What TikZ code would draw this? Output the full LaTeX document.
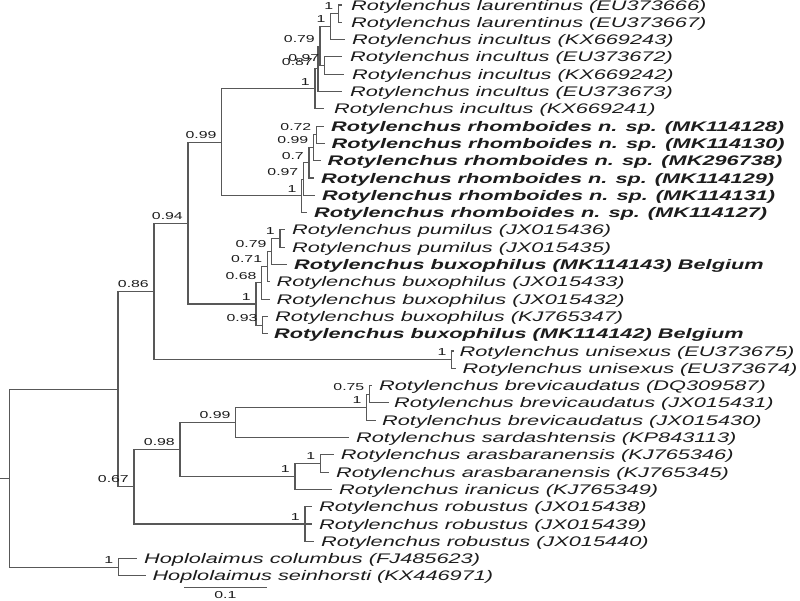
\documentclass[tikz,border=0pt]{standalone}
\usepackage{fontspec}
\setmainfont{Liberation Sans}
\usepackage{graphicx}
\definecolor{brc}{RGB}{88,88,88}
\definecolor{txc}{RGB}{28,28,28}
\newcommand{\leafit}[1]{\scalebox{1.564}[1]{\fontsize{13.9}{15}\selectfont\itshape #1}}
\newcommand{\leafbf}[1]{\scalebox{1.564}[1]{\fontsize{13.9}{15}\selectfont\bfseries\itshape #1}}
\newcommand{\suppt}[1]{\scalebox{1.57}[1]{\fontsize{10.1}{11}\selectfont #1}}
\begin{document}
\begin{tikzpicture}[x=1pt,y=-1pt,
  br/.style={draw=brc,line width=1.1pt},
  leaf/.style={anchor=base west,inner sep=0pt,text=txc},
  supp/.style={anchor=south east,inner sep=0pt,text=txc}]
\useasboundingbox (0,0) rectangle (800,600);
% leaf tips
\coordinate (l0) at (342,5.0);
\coordinate (l1) at (342,22.3);
\coordinate (l2) at (345,39.6);
\coordinate (l3) at (342,56.9);
\coordinate (l4) at (344,74.2);
\coordinate (l5) at (342,91.5);
\coordinate (l6) at (324,108.8);
\coordinate (l7) at (324,126.1);
\coordinate (l8) at (324.5,143.4);
\coordinate (l9) at (320.5,160.7);
\coordinate (l10) at (314,178.0);
\coordinate (l11) at (315,195.3);
\coordinate (l12) at (307,212.6);
\coordinate (l13) at (285,229.9);
\coordinate (l14) at (285,247.2);
\coordinate (l15) at (287,264.5);
\coordinate (l16) at (270,281.8);
\coordinate (l17) at (270,299.1);
\coordinate (l18) at (268,316.4);
\coordinate (l19) at (268,333.7);
\coordinate (l20) at (454,351.0);
\coordinate (l21) at (456,368.3);
\coordinate (l22) at (372,385.6);
\coordinate (l23) at (389,402.9);
\coordinate (l24) at (376,420.2);
\coordinate (l25) at (349,437.5);
\coordinate (l26) at (334,454.8);
\coordinate (l27) at (329,472.1);
\coordinate (l28) at (332,489.4);
\coordinate (l29) at (312,506.7);
\coordinate (l30) at (312,524.0);
\coordinate (l31) at (314,541.3);
\coordinate (l32) at (137,558.6);
\coordinate (l33) at (146,575.9);
% internal nodes
\coordinate (Nlau) at (338.3,13.65);
\coordinate (Na) at (330.7,26.6);
\coordinate (Nc) at (324.5,65.55);
\coordinate (R) at (320,46.1);
\coordinate (Q) at (318,68.8);
\coordinate (P) at (315,88.8);
\coordinate (W) at (316.5,134.75);
\coordinate (X) at (313.5,147.7);
\coordinate (Y) at (309,162.85);
\coordinate (T) at (303.5,179.1);
\coordinate (S) at (301.7,195.85);
\coordinate (N99) at (221.7,142.3);
\coordinate (P1) at (280,238.55);
\coordinate (P2) at (271.7,251.5);
\coordinate (P3) at (267.3,266.65);
\coordinate (P4) at (261.7,282.9);
\coordinate (B2) at (262.7,325.05);
\coordinate (B0) at (256,304);
\coordinate (N94) at (188,223.15);
\coordinate (U1) at (451.7,359.65);
\coordinate (N86) at (154,291.4);
\coordinate (C5) at (369.5,394.25);
\coordinate (C4) at (366.7,407.2);
\coordinate (C2) at (235.7,422.35);
\coordinate (C6) at (320.5,463.45);
\coordinate (C3) at (295,476.4);
\coordinate (C1) at (180,449.4);
\coordinate (R1) at (305,524);
\coordinate (Z) at (134,486.7);
\coordinate (M) at (118,389.05);
\coordinate (H) at (118.3,567.25);
\coordinate (Root) at (9.3,478.15);
\coordinate (r0) at (0,478.15);
% branches
\foreach \p/\c in {Nlau/l0,Nlau/l1,Na/Nlau,Na/l2,Nc/l3,Nc/l4,R/Na,R/Nc,Q/R,Q/l5,P/Q,P/l6,
  W/l7,W/l8,X/W,X/l9,Y/X,Y/l10,T/Y,T/l11,S/T,S/l12,N99/P,N99/S,
  P1/l13,P1/l14,P2/P1,P2/l15,P3/P2,P3/l16,P4/P3,P4/l17,B2/l18,B2/l19,B0/P4,B0/B2,
  N94/N99,N94/B0,U1/l20,U1/l21,N86/N94,N86/U1,
  C5/l22,C5/l23,C4/C5,C4/l24,C2/C4,C2/l25,C6/l26,C6/l27,C3/C6,C3/l28,C1/C2,C1/C3,
  R1/l29,R1/l30,R1/l31,Z/C1,Z/R1,M/N86,M/Z,H/l32,H/l33,Root/M,Root/H}
  \draw[br] (\p) |- (\c);
\draw[br] (r0) -- (Root);
% support values
\foreach \n/\v in {Nlau/1,Na/1,R/0.79,Nc/0.97,Q/0.87,P/1,W/0.72,X/0.99,Y/0.7,T/0.97,S/1,N99/0.99,
  P1/1,P2/0.79,P3/0.71,P4/0.68,B2/0.93,B0/1,N94/0.94,U1/1,N86/0.86,
  C5/0.75,C4/1,C2/0.99,C6/1,C3/1,C1/0.98,R1/1,Z/0.67,H/1}
  \node[supp] (s\n) at ([xshift=-5pt,yshift=3.5pt]\n) {\suppt{\v}};
% leaf labels
\node[leaf] (t0) at (351,10.0) {\leafit{Rotylenchus laurentinus (EU373666)}};
\node[leaf] (t1) at (351,27.3) {\leafit{Rotylenchus laurentinus (EU373667)}};
\node[leaf] (t2) at (352,44.6) {\leafit{Rotylenchus incultus (KX669243)}};
\node[leaf] (t3) at (350,61.9) {\leafit{Rotylenchus incultus (EU373672)}};
\node[leaf] (t4) at (352,79.2) {\leafit{Rotylenchus incultus (KX669242)}};
\node[leaf] (t5) at (350,96.5) {\leafit{Rotylenchus incultus (EU373673)}};
\node[leaf] (t6) at (334,113.8) {\leafit{Rotylenchus incultus (KX669241)}};
\node[leaf] (t7) at (331,131.1) {\leafbf{Rotylenchus rhomboides n. sp. (MK114128)}};
\node[leaf] (t8) at (331.5,148.4) {\leafbf{Rotylenchus rhomboides n. sp. (MK114130)}};
\node[leaf] (t9) at (327.5,165.7) {\leafbf{Rotylenchus rhomboides n. sp. (MK296738)}};
\node[leaf] (t10) at (321,183.0) {\leafbf{Rotylenchus rhomboides n. sp. (MK114129)}};
\node[leaf] (t11) at (322,200.3) {\leafbf{Rotylenchus rhomboides n. sp. (MK114131)}};
\node[leaf] (t12) at (314,217.6) {\leafbf{Rotylenchus rhomboides n. sp. (MK114127)}};
\node[leaf] (t13) at (292,234.9) {\leafit{Rotylenchus pumilus (JX015436)}};
\node[leaf] (t14) at (292,252.2) {\leafit{Rotylenchus pumilus (JX015435)}};
\node[leaf] (t15) at (294,269.5) {\leafbf{Rotylenchus buxophilus (MK114143) Belgium}};
\node[leaf] (t16) at (276.5,286.8) {\leafit{Rotylenchus buxophilus (JX015433)}};
\node[leaf] (t17) at (276.5,304.1) {\leafit{Rotylenchus buxophilus (JX015432)}};
\node[leaf] (t18) at (275,321.4) {\leafit{Rotylenchus buxophilus (KJ765347)}};
\node[leaf] (t19) at (274,338.7) {\leafbf{Rotylenchus buxophilus (MK114142) Belgium}};
\node[leaf] (t20) at (459.5,356.0) {\leafit{Rotylenchus unisexus (EU373675)}};
\node[leaf] (t21) at (462.5,373.3) {\leafit{Rotylenchus unisexus (EU373674)}};
\node[leaf] (t22) at (379,390.6) {\leafit{Rotylenchus brevicaudatus (DQ309587)}};
\node[leaf] (t23) at (394,407.9) {\leafit{Rotylenchus brevicaudatus (JX015431)}};
\node[leaf] (t24) at (382,425.2) {\leafit{Rotylenchus brevicaudatus (JX015430)}};
\node[leaf] (t25) at (356,442.5) {\leafit{Rotylenchus sardashtensis (KP843113)}};
\node[leaf] (t26) at (340.7,459.8) {\leafit{Rotylenchus arasbaranensis (KJ765346)}};
\node[leaf] (t27) at (336,477.1) {\leafit{Rotylenchus arasbaranensis (KJ765345)}};
\node[leaf] (t28) at (339,494.4) {\leafit{Rotylenchus iranicus (KJ765349)}};
\node[leaf] (t29) at (319,511.7) {\leafit{Rotylenchus robustus (JX015438)}};
\node[leaf] (t30) at (319,529.0) {\leafit{Rotylenchus robustus (JX015439)}};
\node[leaf] (t31) at (321,546.3) {\leafit{Rotylenchus robustus (JX015440)}};
\node[leaf] (t32) at (144,563.6) {\leafit{Hoplolaimus columbus (FJ485623)}};
\node[leaf] (t33) at (152.3,580.9) {\leafit{Hoplolaimus seinhorsti (KX446971)}};
% scale bar
\coordinate (sb1) at (184,587.3);
\coordinate (sb2) at (266.7,587.3);
\draw[br] (sb1) -- (sb2);
\node[anchor=north,inner sep=0pt,text=txc] (sbl) at (225.3,591.2) {\suppt{0.1}};
\end{tikzpicture}
\end{document}
